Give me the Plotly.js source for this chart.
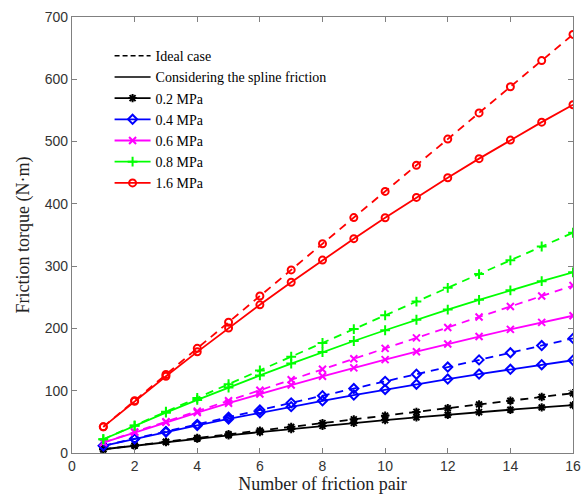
<!DOCTYPE html>
<html>
<head>
<meta charset="utf-8">
<script src="https://cdn.plot.ly/plotly-3.0.1.min.js"></script>
<style>html,body{margin:0;padding:0;background:#fff;}#chart{width:582px;height:495px;}</style>
</head>
<body>
<div id="chart"></div>
<script>
const pairs = [1,2,3,4,5,6,7,8,9,10,11,12,13,14,15,16];
const seriesNames = ['0.2 MPa','0.4 MPa','0.6 MPa','0.8 MPa','1.6 MPa'];
const seriesColors = ['#000000','#0000ff','#ff00ff','#00ff00','#ff0000'];
const seriesSymbols = ['asterisk-open','diamond-open','x-thin-open','cross-thin-open','circle-open'];

const ideal02 = [6,12,18,24,30,36,42,48,54,60,66,72,78,84,90,96];
const spline02 = [6,11.8,17.5,23.0,28.4,33.6,38.6,43.5,48.3,52.8,57.2,61.5,65.6,69.5,73.2,76.8];
const ideal04 = [11.5,23,34.5,46,57.5,69,80.5,92,103.5,115,126.5,138,149.5,161,172.5,184];
const spline04 = [11.5,22.7,33.6,44.2,54.6,64.6,74.4,83.8,93.0,101.9,110.4,118.7,126.7,134.4,141.8,148.9];
const ideal06 = [16.8,33.6,50.4,67.2,84,100.8,117.6,134.4,151.2,168,184.8,201.6,218.4,235.2,252,268.8];
const spline06 = [16.8,33.2,49.2,64.8,80.0,94.8,109.1,123.1,136.7,149.9,162.6,175.0,187.0,198.5,209.7,220.4];
const ideal08 = [22.1,44.2,66.3,88.4,110.5,132.6,154.7,176.8,198.9,221,243.1,265.2,287.3,309.4,331.5,353.6];
const spline08 = [22.1,43.7,64.7,85.2,105.2,124.6,143.6,162.0,179.8,197.1,213.9,230.2,245.9,261.1,275.8,290.0];
const ideal16 = [42,84,126,168,210,252,294,336,378,420,462,504,546,588,630,672];
const spline16 = [42,83.1,123.2,162.4,200.6,237.9,274.2,309.7,344.1,377.7,410.3,441.9,472.6,502.4,531.2,559.1];

const idealSets = [ideal02, ideal04, ideal06, ideal08, ideal16];
const splineSets = [spline02, spline04, spline06, spline08, spline16];

const xTicks = [0,2,4,6,8,10,12,14,16];
const yTicks = [0,100,200,300,400,500,600,700];

const serif = 'Liberation Serif';
const traces = [];
traces.push({x:[null], y:[null], mode:'lines', name:'Ideal case',
  line:{color:'#000', width:1.5, dash:'5px,3px'}, showlegend:true});
traces.push({x:[null], y:[null], mode:'lines', name:'Considering the spline friction',
  line:{color:'#000', width:1.5}, showlegend:true});
for (let i=0;i<seriesNames.length;i++){
  traces.push({x:[null], y:[null], mode:'lines+markers', name:seriesNames[i],
    line:{color:seriesColors[i], width:1.8},
    marker:{symbol:seriesSymbols[i], size:7, color:seriesColors[i], line:{color:seriesColors[i], width:2}},
    showlegend:true});
}
for (let i=0;i<seriesNames.length;i++){
  traces.push({x:pairs, y:idealSets[i], mode:'lines+markers', showlegend:false,
    line:{color:seriesColors[i], width:1.8, dash:'8px,6px'},
    marker:{symbol:seriesSymbols[i], size:7, color:seriesColors[i], line:{color:seriesColors[i], width:2}}});
  traces.push({x:pairs, y:splineSets[i], mode:'lines+markers', showlegend:false,
    line:{color:seriesColors[i], width:1.8},
    marker:{symbol:seriesSymbols[i], size:7, color:seriesColors[i], line:{color:seriesColors[i], width:2}}});
}

const axisCommon = {
  showgrid:false, zeroline:false, showline:true, linecolor:'#808080', linewidth:1.2,
  mirror:'ticks', ticks:'inside', ticklen:5, tickcolor:'#808080',
  tickfont:{family:'Liberation Sans', size:14, color:'#333'}
};

const layout = {
  width:582, height:495,
  margin:{l:72, r:9, t:17, b:42},
  paper_bgcolor:'#fff', plot_bgcolor:'#fff',
  xaxis:Object.assign({}, axisCommon, {
    range:[0,16], tickvals:xTicks, ticktext:xTicks.map(String),
    title:{text:'Number of friction pair', font:{family:serif, size:18, color:'#222'}, standoff:3}
  }),
  yaxis:Object.assign({}, axisCommon, {
    range:[0,700], tickvals:yTicks, ticktext:yTicks.map(String),
    title:{text:'Friction torque (N·m)', font:{family:serif, size:18, color:'#222'}, standoff:10}
  }),
  legend:{x:0.075, y:0.947, xanchor:'left', yanchor:'top', bgcolor:'rgba(0,0,0,0)', borderwidth:0,
    font:{family:serif, size:14, color:'#000'}, tracegroupgap:0, itemwidth:36},
  showlegend:true
};

Plotly.newPlot('chart', traces, layout, {displayModeBar:false, staticPlot:true});
</script>
</body>
</html>
